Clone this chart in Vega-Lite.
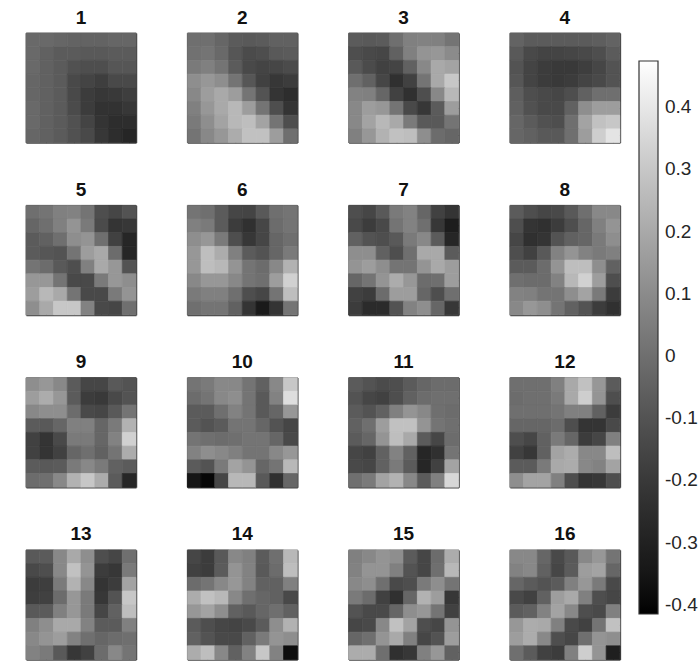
{"$schema":"https://vega.github.io/schema/vega-lite/v6.json","padding":{"left":25,"top":8,"right":0,"bottom":0},"background":"white",
"data":{"values":[
{"p":1,"r":1,"c":1,"v":-0.02},{"p":1,"r":1,"c":2,"v":-0.02},{"p":1,"r":1,"c":3,"v":-0.03},{"p":1,"r":1,"c":4,"v":-0.04},{"p":1,"r":1,"c":5,"v":-0.04},{"p":1,"r":1,"c":6,"v":-0.04},{"p":1,"r":1,"c":7,"v":-0.03},{"p":1,"r":1,"c":8,"v":-0.03},
{"p":1,"r":2,"c":1,"v":-0.02},{"p":1,"r":2,"c":2,"v":-0.05},{"p":1,"r":2,"c":3,"v":-0.07},{"p":1,"r":2,"c":4,"v":-0.07},{"p":1,"r":2,"c":5,"v":-0.08},{"p":1,"r":2,"c":6,"v":-0.08},{"p":1,"r":2,"c":7,"v":-0.07},{"p":1,"r":2,"c":8,"v":-0.07},
{"p":1,"r":3,"c":1,"v":-0.02},{"p":1,"r":3,"c":2,"v":-0.05},{"p":1,"r":3,"c":3,"v":-0.07},{"p":1,"r":3,"c":4,"v":-0.11},{"p":1,"r":3,"c":5,"v":-0.12},{"p":1,"r":3,"c":6,"v":-0.12},{"p":1,"r":3,"c":7,"v":-0.09},{"p":1,"r":3,"c":8,"v":-0.09},
{"p":1,"r":4,"c":1,"v":-0.03},{"p":1,"r":4,"c":2,"v":-0.05},{"p":1,"r":4,"c":3,"v":-0.07},{"p":1,"r":4,"c":4,"v":-0.14},{"p":1,"r":4,"c":5,"v":-0.16},{"p":1,"r":4,"c":6,"v":-0.18},{"p":1,"r":4,"c":7,"v":-0.14},{"p":1,"r":4,"c":8,"v":-0.14},
{"p":1,"r":5,"c":1,"v":-0.03},{"p":1,"r":5,"c":2,"v":-0.05},{"p":1,"r":5,"c":3,"v":-0.07},{"p":1,"r":5,"c":4,"v":-0.14},{"p":1,"r":5,"c":5,"v":-0.19},{"p":1,"r":5,"c":6,"v":-0.21},{"p":1,"r":5,"c":7,"v":-0.2},{"p":1,"r":5,"c":8,"v":-0.18},
{"p":1,"r":6,"c":1,"v":-0.02},{"p":1,"r":6,"c":2,"v":-0.05},{"p":1,"r":6,"c":3,"v":-0.07},{"p":1,"r":6,"c":4,"v":-0.13},{"p":1,"r":6,"c":5,"v":-0.19},{"p":1,"r":6,"c":6,"v":-0.23},{"p":1,"r":6,"c":7,"v":-0.23},{"p":1,"r":6,"c":8,"v":-0.21},
{"p":1,"r":7,"c":1,"v":-0.02},{"p":1,"r":7,"c":2,"v":-0.05},{"p":1,"r":7,"c":3,"v":-0.07},{"p":1,"r":7,"c":4,"v":-0.11},{"p":1,"r":7,"c":5,"v":-0.16},{"p":1,"r":7,"c":6,"v":-0.22},{"p":1,"r":7,"c":7,"v":-0.25},{"p":1,"r":7,"c":8,"v":-0.25},
{"p":1,"r":8,"c":1,"v":-0.03},{"p":1,"r":8,"c":2,"v":-0.05},{"p":1,"r":8,"c":3,"v":-0.07},{"p":1,"r":8,"c":4,"v":-0.11},{"p":1,"r":8,"c":5,"v":-0.14},{"p":1,"r":8,"c":6,"v":-0.21},{"p":1,"r":8,"c":7,"v":-0.25},{"p":1,"r":8,"c":8,"v":-0.28},
{"p":2,"r":1,"c":1,"v":0},{"p":2,"r":1,"c":2,"v":0},{"p":2,"r":1,"c":3,"v":-0.03},{"p":2,"r":1,"c":4,"v":-0.07},{"p":2,"r":1,"c":5,"v":-0.08},{"p":2,"r":1,"c":6,"v":-0.07},{"p":2,"r":1,"c":7,"v":-0.05},{"p":2,"r":1,"c":8,"v":-0.05},
{"p":2,"r":2,"c":1,"v":0.01},{"p":2,"r":2,"c":2,"v":0.02},{"p":2,"r":2,"c":3,"v":-0.02},{"p":2,"r":2,"c":4,"v":-0.09},{"p":2,"r":2,"c":5,"v":-0.13},{"p":2,"r":2,"c":6,"v":-0.12},{"p":2,"r":2,"c":7,"v":-0.08},{"p":2,"r":2,"c":8,"v":-0.07},
{"p":2,"r":3,"c":1,"v":0.04},{"p":2,"r":3,"c":2,"v":0.06},{"p":2,"r":3,"c":3,"v":0.02},{"p":2,"r":3,"c":4,"v":-0.07},{"p":2,"r":3,"c":5,"v":-0.14},{"p":2,"r":3,"c":6,"v":-0.16},{"p":2,"r":3,"c":7,"v":-0.15},{"p":2,"r":3,"c":8,"v":-0.13},
{"p":2,"r":4,"c":1,"v":0.11},{"p":2,"r":4,"c":2,"v":0.14},{"p":2,"r":4,"c":3,"v":0.11},{"p":2,"r":4,"c":4,"v":0.02},{"p":2,"r":4,"c":5,"v":-0.09},{"p":2,"r":4,"c":6,"v":-0.17},{"p":2,"r":4,"c":7,"v":-0.21},{"p":2,"r":4,"c":8,"v":-0.19},
{"p":2,"r":5,"c":1,"v":0.09},{"p":2,"r":5,"c":2,"v":0.16},{"p":2,"r":5,"c":3,"v":0.2},{"p":2,"r":5,"c":4,"v":0.16},{"p":2,"r":5,"c":5,"v":0.02},{"p":2,"r":5,"c":6,"v":-0.1},{"p":2,"r":5,"c":7,"v":-0.22},{"p":2,"r":5,"c":8,"v":-0.25},
{"p":2,"r":6,"c":1,"v":0.06},{"p":2,"r":6,"c":2,"v":0.14},{"p":2,"r":6,"c":3,"v":0.2},{"p":2,"r":6,"c":4,"v":0.25},{"p":2,"r":6,"c":5,"v":0.16},{"p":2,"r":6,"c":6,"v":0.02},{"p":2,"r":6,"c":7,"v":-0.12},{"p":2,"r":6,"c":8,"v":-0.22},
{"p":2,"r":7,"c":1,"v":0.04},{"p":2,"r":7,"c":2,"v":0.11},{"p":2,"r":7,"c":3,"v":0.18},{"p":2,"r":7,"c":4,"v":0.25},{"p":2,"r":7,"c":5,"v":0.27},{"p":2,"r":7,"c":6,"v":0.18},{"p":2,"r":7,"c":7,"v":0.02},{"p":2,"r":7,"c":8,"v":-0.12},
{"p":2,"r":8,"c":1,"v":0.02},{"p":2,"r":8,"c":2,"v":0.09},{"p":2,"r":8,"c":3,"v":0.14},{"p":2,"r":8,"c":4,"v":0.21},{"p":2,"r":8,"c":5,"v":0.28},{"p":2,"r":8,"c":6,"v":0.28},{"p":2,"r":8,"c":7,"v":0.16},{"p":2,"r":8,"c":8,"v":0},
{"p":3,"r":1,"c":1,"v":-0.07},{"p":3,"r":1,"c":2,"v":-0.08},{"p":3,"r":1,"c":3,"v":-0.07},{"p":3,"r":1,"c":4,"v":0},{"p":3,"r":1,"c":5,"v":0.06},{"p":3,"r":1,"c":6,"v":0.07},{"p":3,"r":1,"c":7,"v":0.06},{"p":3,"r":1,"c":8,"v":0.02},
{"p":3,"r":2,"c":1,"v":-0.12},{"p":3,"r":2,"c":2,"v":-0.14},{"p":3,"r":2,"c":3,"v":-0.15},{"p":3,"r":2,"c":4,"v":-0.05},{"p":3,"r":2,"c":5,"v":0.06},{"p":3,"r":2,"c":6,"v":0.13},{"p":3,"r":2,"c":7,"v":0.14},{"p":3,"r":2,"c":8,"v":0.1},
{"p":3,"r":3,"c":1,"v":-0.08},{"p":3,"r":3,"c":2,"v":-0.13},{"p":3,"r":3,"c":3,"v":-0.17},{"p":3,"r":3,"c":4,"v":-0.16},{"p":3,"r":3,"c":5,"v":-0.05},{"p":3,"r":3,"c":6,"v":0.09},{"p":3,"r":3,"c":7,"v":0.2},{"p":3,"r":3,"c":8,"v":0.18},
{"p":3,"r":4,"c":1,"v":0},{"p":3,"r":4,"c":2,"v":-0.05},{"p":3,"r":4,"c":3,"v":-0.15},{"p":3,"r":4,"c":4,"v":-0.24},{"p":3,"r":4,"c":5,"v":-0.17},{"p":3,"r":4,"c":6,"v":0.02},{"p":3,"r":4,"c":7,"v":0.2},{"p":3,"r":4,"c":8,"v":0.3},
{"p":3,"r":5,"c":1,"v":0.07},{"p":3,"r":5,"c":2,"v":0.06},{"p":3,"r":5,"c":3,"v":-0.03},{"p":3,"r":5,"c":4,"v":-0.17},{"p":3,"r":5,"c":5,"v":-0.24},{"p":3,"r":5,"c":6,"v":-0.12},{"p":3,"r":5,"c":7,"v":0.09},{"p":3,"r":5,"c":8,"v":0.25},
{"p":3,"r":6,"c":1,"v":0.09},{"p":3,"r":6,"c":2,"v":0.16},{"p":3,"r":6,"c":3,"v":0.14},{"p":3,"r":6,"c":4,"v":0.02},{"p":3,"r":6,"c":5,"v":-0.14},{"p":3,"r":6,"c":6,"v":-0.21},{"p":3,"r":6,"c":7,"v":-0.07},{"p":3,"r":6,"c":8,"v":0.16},
{"p":3,"r":7,"c":1,"v":0.09},{"p":3,"r":7,"c":2,"v":0.18},{"p":3,"r":7,"c":3,"v":0.25},{"p":3,"r":7,"c":4,"v":0.2},{"p":3,"r":7,"c":5,"v":0.04},{"p":3,"r":7,"c":6,"v":-0.08},{"p":3,"r":7,"c":7,"v":-0.08},{"p":3,"r":7,"c":8,"v":0.02},
{"p":3,"r":8,"c":1,"v":0.06},{"p":3,"r":8,"c":2,"v":0.14},{"p":3,"r":8,"c":3,"v":0.23},{"p":3,"r":8,"c":4,"v":0.28},{"p":3,"r":8,"c":5,"v":0.27},{"p":3,"r":8,"c":6,"v":0.11},{"p":3,"r":8,"c":7,"v":-0.01},{"p":3,"r":8,"c":8,"v":-0.03},
{"p":4,"r":1,"c":1,"v":-0.04},{"p":4,"r":1,"c":2,"v":-0.07},{"p":4,"r":1,"c":3,"v":-0.07},{"p":4,"r":1,"c":4,"v":-0.07},{"p":4,"r":1,"c":5,"v":-0.07},{"p":4,"r":1,"c":6,"v":-0.07},{"p":4,"r":1,"c":7,"v":-0.06},{"p":4,"r":1,"c":8,"v":-0.04},
{"p":4,"r":2,"c":1,"v":-0.08},{"p":4,"r":2,"c":2,"v":-0.14},{"p":4,"r":2,"c":3,"v":-0.16},{"p":4,"r":2,"c":4,"v":-0.16},{"p":4,"r":2,"c":5,"v":-0.15},{"p":4,"r":2,"c":6,"v":-0.14},{"p":4,"r":2,"c":7,"v":-0.12},{"p":4,"r":2,"c":8,"v":-0.07},
{"p":4,"r":3,"c":1,"v":-0.1},{"p":4,"r":3,"c":2,"v":-0.16},{"p":4,"r":3,"c":3,"v":-0.19},{"p":4,"r":3,"c":4,"v":-0.2},{"p":4,"r":3,"c":5,"v":-0.2},{"p":4,"r":3,"c":6,"v":-0.18},{"p":4,"r":3,"c":7,"v":-0.15},{"p":4,"r":3,"c":8,"v":-0.1},
{"p":4,"r":4,"c":1,"v":-0.09},{"p":4,"r":4,"c":2,"v":-0.16},{"p":4,"r":4,"c":3,"v":-0.19},{"p":4,"r":4,"c":4,"v":-0.2},{"p":4,"r":4,"c":5,"v":-0.19},{"p":4,"r":4,"c":6,"v":-0.16},{"p":4,"r":4,"c":7,"v":-0.14},{"p":4,"r":4,"c":8,"v":-0.1},
{"p":4,"r":5,"c":1,"v":-0.06},{"p":4,"r":5,"c":2,"v":-0.12},{"p":4,"r":5,"c":3,"v":-0.14},{"p":4,"r":5,"c":4,"v":-0.15},{"p":4,"r":5,"c":5,"v":-0.12},{"p":4,"r":5,"c":6,"v":-0.05},{"p":4,"r":5,"c":7,"v":0},{"p":4,"r":5,"c":8,"v":0},
{"p":4,"r":6,"c":1,"v":-0.05},{"p":4,"r":6,"c":2,"v":-0.11},{"p":4,"r":6,"c":3,"v":-0.14},{"p":4,"r":6,"c":4,"v":-0.14},{"p":4,"r":6,"c":5,"v":-0.05},{"p":4,"r":6,"c":6,"v":0.11},{"p":4,"r":6,"c":7,"v":0.16},{"p":4,"r":6,"c":8,"v":0.16},
{"p":4,"r":7,"c":1,"v":-0.03},{"p":4,"r":7,"c":2,"v":-0.07},{"p":4,"r":7,"c":3,"v":-0.11},{"p":4,"r":7,"c":4,"v":-0.12},{"p":4,"r":7,"c":5,"v":0},{"p":4,"r":7,"c":6,"v":0.18},{"p":4,"r":7,"c":7,"v":0.28},{"p":4,"r":7,"c":8,"v":0.3},
{"p":4,"r":8,"c":1,"v":-0.03},{"p":4,"r":8,"c":2,"v":-0.05},{"p":4,"r":8,"c":3,"v":-0.08},{"p":4,"r":8,"c":4,"v":-0.08},{"p":4,"r":8,"c":5,"v":0},{"p":4,"r":8,"c":6,"v":0.16},{"p":4,"r":8,"c":7,"v":0.32},{"p":4,"r":8,"c":8,"v":0.39},
{"p":5,"r":1,"c":1,"v":0},{"p":5,"r":1,"c":2,"v":0.02},{"p":5,"r":1,"c":3,"v":0.06},{"p":5,"r":1,"c":4,"v":0.07},{"p":5,"r":1,"c":5,"v":0.02},{"p":5,"r":1,"c":6,"v":-0.12},{"p":5,"r":1,"c":7,"v":-0.15},{"p":5,"r":1,"c":8,"v":-0.1},
{"p":5,"r":2,"c":1,"v":-0.03},{"p":5,"r":2,"c":2,"v":0},{"p":5,"r":2,"c":3,"v":0.06},{"p":5,"r":2,"c":4,"v":0.13},{"p":5,"r":2,"c":5,"v":0.04},{"p":5,"r":2,"c":6,"v":-0.13},{"p":5,"r":2,"c":7,"v":-0.22},{"p":5,"r":2,"c":8,"v":-0.21},
{"p":5,"r":3,"c":1,"v":-0.07},{"p":5,"r":3,"c":2,"v":-0.05},{"p":5,"r":3,"c":3,"v":0},{"p":5,"r":3,"c":4,"v":0.11},{"p":5,"r":3,"c":5,"v":0.13},{"p":5,"r":3,"c":6,"v":0},{"p":5,"r":3,"c":7,"v":-0.17},{"p":5,"r":3,"c":8,"v":-0.28},
{"p":5,"r":4,"c":1,"v":-0.07},{"p":5,"r":4,"c":2,"v":-0.09},{"p":5,"r":4,"c":3,"v":-0.1},{"p":5,"r":4,"c":4,"v":0.02},{"p":5,"r":4,"c":5,"v":0.16},{"p":5,"r":4,"c":6,"v":0.2},{"p":5,"r":4,"c":7,"v":-0.01},{"p":5,"r":4,"c":8,"v":-0.28},
{"p":5,"r":5,"c":1,"v":0.02},{"p":5,"r":5,"c":2,"v":-0.01},{"p":5,"r":5,"c":3,"v":-0.08},{"p":5,"r":5,"c":4,"v":-0.12},{"p":5,"r":5,"c":5,"v":0.06},{"p":5,"r":5,"c":6,"v":0.2},{"p":5,"r":5,"c":7,"v":0.14},{"p":5,"r":5,"c":8,"v":-0.1},
{"p":5,"r":6,"c":1,"v":0.14},{"p":5,"r":6,"c":2,"v":0.14},{"p":5,"r":6,"c":3,"v":0.02},{"p":5,"r":6,"c":4,"v":-0.14},{"p":5,"r":6,"c":5,"v":-0.14},{"p":5,"r":6,"c":6,"v":0.04},{"p":5,"r":6,"c":7,"v":0.14},{"p":5,"r":6,"c":8,"v":0.11},
{"p":5,"r":7,"c":1,"v":0.16},{"p":5,"r":7,"c":2,"v":0.25},{"p":5,"r":7,"c":3,"v":0.2},{"p":5,"r":7,"c":4,"v":0.02},{"p":5,"r":7,"c":5,"v":-0.14},{"p":5,"r":7,"c":6,"v":-0.14},{"p":5,"r":7,"c":7,"v":0.04},{"p":5,"r":7,"c":8,"v":0.13},
{"p":5,"r":8,"c":1,"v":0.11},{"p":5,"r":8,"c":2,"v":0.2},{"p":5,"r":8,"c":3,"v":0.3},{"p":5,"r":8,"c":4,"v":0.3},{"p":5,"r":8,"c":5,"v":0.07},{"p":5,"r":8,"c":6,"v":-0.14},{"p":5,"r":8,"c":7,"v":-0.15},{"p":5,"r":8,"c":8,"v":0},
{"p":6,"r":1,"c":1,"v":0.02},{"p":6,"r":1,"c":2,"v":0},{"p":6,"r":1,"c":3,"v":-0.07},{"p":6,"r":1,"c":4,"v":-0.15},{"p":6,"r":1,"c":5,"v":-0.16},{"p":6,"r":1,"c":6,"v":-0.08},{"p":6,"r":1,"c":7,"v":0},{"p":6,"r":1,"c":8,"v":0.02},
{"p":6,"r":2,"c":1,"v":0.06},{"p":6,"r":2,"c":2,"v":0.04},{"p":6,"r":2,"c":3,"v":-0.07},{"p":6,"r":2,"c":4,"v":-0.19},{"p":6,"r":2,"c":5,"v":-0.24},{"p":6,"r":2,"c":6,"v":-0.15},{"p":6,"r":2,"c":7,"v":-0.01},{"p":6,"r":2,"c":8,"v":0.02},
{"p":6,"r":3,"c":1,"v":0.11},{"p":6,"r":3,"c":2,"v":0.14},{"p":6,"r":3,"c":3,"v":0.04},{"p":6,"r":3,"c":4,"v":-0.12},{"p":6,"r":3,"c":5,"v":-0.21},{"p":6,"r":3,"c":6,"v":-0.15},{"p":6,"r":3,"c":7,"v":-0.03},{"p":6,"r":3,"c":8,"v":0},
{"p":6,"r":4,"c":1,"v":0.14},{"p":6,"r":4,"c":2,"v":0.27},{"p":6,"r":4,"c":3,"v":0.21},{"p":6,"r":4,"c":4,"v":0.06},{"p":6,"r":4,"c":5,"v":-0.07},{"p":6,"r":4,"c":6,"v":-0.1},{"p":6,"r":4,"c":7,"v":-0.03},{"p":6,"r":4,"c":8,"v":0.04},
{"p":6,"r":5,"c":1,"v":0.14},{"p":6,"r":5,"c":2,"v":0.27},{"p":6,"r":5,"c":3,"v":0.25},{"p":6,"r":5,"c":4,"v":0.13},{"p":6,"r":5,"c":5,"v":0.02},{"p":6,"r":5,"c":6,"v":-0.01},{"p":6,"r":5,"c":7,"v":0.09},{"p":6,"r":5,"c":8,"v":0.23},
{"p":6,"r":6,"c":1,"v":0.09},{"p":6,"r":6,"c":2,"v":0.14},{"p":6,"r":6,"c":3,"v":0.14},{"p":6,"r":6,"c":4,"v":0.09},{"p":6,"r":6,"c":5,"v":0.02},{"p":6,"r":6,"c":6,"v":0},{"p":6,"r":6,"c":7,"v":0.16},{"p":6,"r":6,"c":8,"v":0.33},
{"p":6,"r":7,"c":1,"v":0.04},{"p":6,"r":7,"c":2,"v":0.06},{"p":6,"r":7,"c":3,"v":0.06},{"p":6,"r":7,"c":4,"v":0},{"p":6,"r":7,"c":5,"v":-0.12},{"p":6,"r":7,"c":6,"v":-0.15},{"p":6,"r":7,"c":7,"v":0.02},{"p":6,"r":7,"c":8,"v":0.27},
{"p":6,"r":8,"c":1,"v":0},{"p":6,"r":8,"c":2,"v":0.02},{"p":6,"r":8,"c":3,"v":0.02},{"p":6,"r":8,"c":4,"v":-0.05},{"p":6,"r":8,"c":5,"v":-0.22},{"p":6,"r":8,"c":6,"v":-0.33},{"p":6,"r":8,"c":7,"v":-0.22},{"p":6,"r":8,"c":8,"v":0.02},
{"p":7,"r":1,"c":1,"v":-0.12},{"p":7,"r":1,"c":2,"v":-0.15},{"p":7,"r":1,"c":3,"v":-0.08},{"p":7,"r":1,"c":4,"v":0.04},{"p":7,"r":1,"c":5,"v":0.07},{"p":7,"r":1,"c":6,"v":-0.03},{"p":7,"r":1,"c":7,"v":-0.17},{"p":7,"r":1,"c":8,"v":-0.22},
{"p":7,"r":2,"c":1,"v":-0.14},{"p":7,"r":2,"c":2,"v":-0.19},{"p":7,"r":2,"c":3,"v":-0.14},{"p":7,"r":2,"c":4,"v":0.02},{"p":7,"r":2,"c":5,"v":0.07},{"p":7,"r":2,"c":6,"v":0},{"p":7,"r":2,"c":7,"v":-0.21},{"p":7,"r":2,"c":8,"v":-0.32},
{"p":7,"r":3,"c":1,"v":-0.05},{"p":7,"r":3,"c":2,"v":-0.1},{"p":7,"r":3,"c":3,"v":-0.12},{"p":7,"r":3,"c":4,"v":-0.08},{"p":7,"r":3,"c":5,"v":0.04},{"p":7,"r":3,"c":6,"v":0.09},{"p":7,"r":3,"c":7,"v":-0.07},{"p":7,"r":3,"c":8,"v":-0.28},
{"p":7,"r":4,"c":1,"v":0.11},{"p":7,"r":4,"c":2,"v":0.11},{"p":7,"r":4,"c":3,"v":-0.05},{"p":7,"r":4,"c":4,"v":-0.12},{"p":7,"r":4,"c":5,"v":0},{"p":7,"r":4,"c":6,"v":0.2},{"p":7,"r":4,"c":7,"v":0.2},{"p":7,"r":4,"c":8,"v":-0.07},
{"p":7,"r":5,"c":1,"v":0.13},{"p":7,"r":5,"c":2,"v":0.16},{"p":7,"r":5,"c":3,"v":0.11},{"p":7,"r":5,"c":4,"v":0.02},{"p":7,"r":5,"c":5,"v":0.02},{"p":7,"r":5,"c":6,"v":0.13},{"p":7,"r":5,"c":7,"v":0.2},{"p":7,"r":5,"c":8,"v":0.16},
{"p":7,"r":6,"c":1,"v":-0.03},{"p":7,"r":6,"c":2,"v":0.02},{"p":7,"r":6,"c":3,"v":0.13},{"p":7,"r":6,"c":4,"v":0.21},{"p":7,"r":6,"c":5,"v":0.14},{"p":7,"r":6,"c":6,"v":-0.01},{"p":7,"r":6,"c":7,"v":0},{"p":7,"r":6,"c":8,"v":0.16},
{"p":7,"r":7,"c":1,"v":-0.17},{"p":7,"r":7,"c":2,"v":-0.19},{"p":7,"r":7,"c":3,"v":-0.01},{"p":7,"r":7,"c":4,"v":0.16},{"p":7,"r":7,"c":5,"v":0.16},{"p":7,"r":7,"c":6,"v":-0.03},{"p":7,"r":7,"c":7,"v":-0.12},{"p":7,"r":7,"c":8,"v":0},
{"p":7,"r":8,"c":1,"v":-0.19},{"p":7,"r":8,"c":2,"v":-0.26},{"p":7,"r":8,"c":3,"v":-0.26},{"p":7,"r":8,"c":4,"v":-0.1},{"p":7,"r":8,"c":5,"v":0.07},{"p":7,"r":8,"c":6,"v":0.11},{"p":7,"r":8,"c":7,"v":-0.03},{"p":7,"r":8,"c":8,"v":-0.21},
{"p":8,"r":1,"c":1,"v":-0.07},{"p":8,"r":1,"c":2,"v":-0.12},{"p":8,"r":1,"c":3,"v":-0.15},{"p":8,"r":1,"c":4,"v":-0.14},{"p":8,"r":1,"c":5,"v":-0.08},{"p":8,"r":1,"c":6,"v":0},{"p":8,"r":1,"c":7,"v":0.09},{"p":8,"r":1,"c":8,"v":0.09},
{"p":8,"r":2,"c":1,"v":-0.12},{"p":8,"r":2,"c":2,"v":-0.22},{"p":8,"r":2,"c":3,"v":-0.24},{"p":8,"r":2,"c":4,"v":-0.19},{"p":8,"r":2,"c":5,"v":-0.12},{"p":8,"r":2,"c":6,"v":-0.03},{"p":8,"r":2,"c":7,"v":0.06},{"p":8,"r":2,"c":8,"v":0.13},
{"p":8,"r":3,"c":1,"v":-0.15},{"p":8,"r":3,"c":2,"v":-0.24},{"p":8,"r":3,"c":3,"v":-0.22},{"p":8,"r":3,"c":4,"v":-0.1},{"p":8,"r":3,"c":5,"v":-0.05},{"p":8,"r":3,"c":6,"v":-0.03},{"p":8,"r":3,"c":7,"v":0.04},{"p":8,"r":3,"c":8,"v":0.11},
{"p":8,"r":4,"c":1,"v":-0.12},{"p":8,"r":4,"c":2,"v":-0.17},{"p":8,"r":4,"c":3,"v":-0.08},{"p":8,"r":4,"c":4,"v":0.07},{"p":8,"r":4,"c":5,"v":0.13},{"p":8,"r":4,"c":6,"v":0.07},{"p":8,"r":4,"c":7,"v":0.04},{"p":8,"r":4,"c":8,"v":0.06},
{"p":8,"r":5,"c":1,"v":-0.07},{"p":8,"r":5,"c":2,"v":-0.07},{"p":8,"r":5,"c":3,"v":-0.01},{"p":8,"r":5,"c":4,"v":0.13},{"p":8,"r":5,"c":5,"v":0.27},{"p":8,"r":5,"c":6,"v":0.27},{"p":8,"r":5,"c":7,"v":0.11},{"p":8,"r":5,"c":8,"v":-0.05},
{"p":8,"r":6,"c":1,"v":0},{"p":8,"r":6,"c":2,"v":-0.01},{"p":8,"r":6,"c":3,"v":-0.01},{"p":8,"r":6,"c":4,"v":0.07},{"p":8,"r":6,"c":5,"v":0.25},{"p":8,"r":6,"c":6,"v":0.33},{"p":8,"r":6,"c":7,"v":0.16},{"p":8,"r":6,"c":8,"v":-0.12},
{"p":8,"r":7,"c":1,"v":0.07},{"p":8,"r":7,"c":2,"v":0.06},{"p":8,"r":7,"c":3,"v":0.02},{"p":8,"r":7,"c":4,"v":0.02},{"p":8,"r":7,"c":5,"v":0.11},{"p":8,"r":7,"c":6,"v":0.18},{"p":8,"r":7,"c":7,"v":0.04},{"p":8,"r":7,"c":8,"v":-0.19},
{"p":8,"r":8,"c":1,"v":0.09},{"p":8,"r":8,"c":2,"v":0.14},{"p":8,"r":8,"c":3,"v":0.11},{"p":8,"r":8,"c":4,"v":0.02},{"p":8,"r":8,"c":5,"v":-0.05},{"p":8,"r":8,"c":6,"v":-0.1},{"p":8,"r":8,"c":7,"v":-0.19},{"p":8,"r":8,"c":8,"v":-0.24},
{"p":9,"r":1,"c":1,"v":0.11},{"p":9,"r":1,"c":2,"v":0.14},{"p":9,"r":1,"c":3,"v":0.09},{"p":9,"r":1,"c":4,"v":-0.07},{"p":9,"r":1,"c":5,"v":-0.15},{"p":9,"r":1,"c":6,"v":-0.15},{"p":9,"r":1,"c":7,"v":-0.08},{"p":9,"r":1,"c":8,"v":-0.1},
{"p":9,"r":2,"c":1,"v":0.16},{"p":9,"r":2,"c":2,"v":0.21},{"p":9,"r":2,"c":3,"v":0.14},{"p":9,"r":2,"c":4,"v":-0.07},{"p":9,"r":2,"c":5,"v":-0.19},{"p":9,"r":2,"c":6,"v":-0.2},{"p":9,"r":2,"c":7,"v":-0.14},{"p":9,"r":2,"c":8,"v":-0.1},
{"p":9,"r":3,"c":1,"v":0.09},{"p":9,"r":3,"c":2,"v":0.11},{"p":9,"r":3,"c":3,"v":0.11},{"p":9,"r":3,"c":4,"v":-0.01},{"p":9,"r":3,"c":5,"v":-0.14},{"p":9,"r":3,"c":6,"v":-0.15},{"p":9,"r":3,"c":7,"v":-0.08},{"p":9,"r":3,"c":8,"v":0.02},
{"p":9,"r":4,"c":1,"v":-0.07},{"p":9,"r":4,"c":2,"v":-0.08},{"p":9,"r":4,"c":3,"v":-0.03},{"p":9,"r":4,"c":4,"v":0.06},{"p":9,"r":4,"c":5,"v":0.06},{"p":9,"r":4,"c":6,"v":-0.03},{"p":9,"r":4,"c":7,"v":0.04},{"p":9,"r":4,"c":8,"v":0.23},
{"p":9,"r":5,"c":1,"v":-0.17},{"p":9,"r":5,"c":2,"v":-0.22},{"p":9,"r":5,"c":3,"v":-0.14},{"p":9,"r":5,"c":4,"v":0.04},{"p":9,"r":5,"c":5,"v":0.04},{"p":9,"r":5,"c":6,"v":-0.03},{"p":9,"r":5,"c":7,"v":0.07},{"p":9,"r":5,"c":8,"v":0.33},
{"p":9,"r":6,"c":1,"v":-0.17},{"p":9,"r":6,"c":2,"v":-0.22},{"p":9,"r":6,"c":3,"v":-0.17},{"p":9,"r":6,"c":4,"v":-0.03},{"p":9,"r":6,"c":5,"v":0},{"p":9,"r":6,"c":6,"v":-0.05},{"p":9,"r":6,"c":7,"v":0.02},{"p":9,"r":6,"c":8,"v":0.21},
{"p":9,"r":7,"c":1,"v":-0.07},{"p":9,"r":7,"c":2,"v":-0.08},{"p":9,"r":7,"c":3,"v":-0.07},{"p":9,"r":7,"c":4,"v":0.04},{"p":9,"r":7,"c":5,"v":0.09},{"p":9,"r":7,"c":6,"v":0.04},{"p":9,"r":7,"c":7,"v":-0.05},{"p":9,"r":7,"c":8,"v":-0.07},
{"p":9,"r":8,"c":1,"v":-0.01},{"p":9,"r":8,"c":2,"v":0},{"p":9,"r":8,"c":3,"v":0.09},{"p":9,"r":8,"c":4,"v":0.23},{"p":9,"r":8,"c":5,"v":0.3},{"p":9,"r":8,"c":6,"v":0.21},{"p":9,"r":8,"c":7,"v":-0.07},{"p":9,"r":8,"c":8,"v":-0.28},
{"p":10,"r":1,"c":1,"v":0.02},{"p":10,"r":1,"c":2,"v":0.04},{"p":10,"r":1,"c":3,"v":0.09},{"p":10,"r":1,"c":4,"v":0.09},{"p":10,"r":1,"c":5,"v":0.02},{"p":10,"r":1,"c":6,"v":-0.05},{"p":10,"r":1,"c":7,"v":0.09},{"p":10,"r":1,"c":8,"v":0.3},
{"p":10,"r":2,"c":1,"v":-0.01},{"p":10,"r":2,"c":2,"v":0.02},{"p":10,"r":2,"c":3,"v":0.09},{"p":10,"r":2,"c":4,"v":0.11},{"p":10,"r":2,"c":5,"v":0.02},{"p":10,"r":2,"c":6,"v":-0.08},{"p":10,"r":2,"c":7,"v":0.07},{"p":10,"r":2,"c":8,"v":0.37},
{"p":10,"r":3,"c":1,"v":-0.07},{"p":10,"r":3,"c":2,"v":-0.07},{"p":10,"r":3,"c":3,"v":0},{"p":10,"r":3,"c":4,"v":0.07},{"p":10,"r":3,"c":5,"v":0.02},{"p":10,"r":3,"c":6,"v":-0.08},{"p":10,"r":3,"c":7,"v":-0.03},{"p":10,"r":3,"c":8,"v":0.14},
{"p":10,"r":4,"c":1,"v":-0.07},{"p":10,"r":4,"c":2,"v":-0.1},{"p":10,"r":4,"c":3,"v":-0.07},{"p":10,"r":4,"c":4,"v":0.02},{"p":10,"r":4,"c":5,"v":0.02},{"p":10,"r":4,"c":6,"v":-0.03},{"p":10,"r":4,"c":7,"v":-0.1},{"p":10,"r":4,"c":8,"v":-0.15},
{"p":10,"r":5,"c":1,"v":0.02},{"p":10,"r":5,"c":2,"v":0},{"p":10,"r":5,"c":3,"v":-0.01},{"p":10,"r":5,"c":4,"v":0},{"p":10,"r":5,"c":5,"v":0.02},{"p":10,"r":5,"c":6,"v":0.02},{"p":10,"r":5,"c":7,"v":-0.03},{"p":10,"r":5,"c":8,"v":-0.14},
{"p":10,"r":6,"c":1,"v":0.07},{"p":10,"r":6,"c":2,"v":0.11},{"p":10,"r":6,"c":3,"v":0.09},{"p":10,"r":6,"c":4,"v":0.06},{"p":10,"r":6,"c":5,"v":0.02},{"p":10,"r":6,"c":6,"v":0.02},{"p":10,"r":6,"c":7,"v":0.09},{"p":10,"r":6,"c":8,"v":0.14},
{"p":10,"r":7,"c":1,"v":-0.07},{"p":10,"r":7,"c":2,"v":-0.1},{"p":10,"r":7,"c":3,"v":0.04},{"p":10,"r":7,"c":4,"v":0.18},{"p":10,"r":7,"c":5,"v":0.13},{"p":10,"r":7,"c":6,"v":-0.03},{"p":10,"r":7,"c":7,"v":0.02},{"p":10,"r":7,"c":8,"v":0.25},
{"p":10,"r":8,"c":1,"v":-0.35},{"p":10,"r":8,"c":2,"v":-0.4},{"p":10,"r":8,"c":3,"v":-0.15},{"p":10,"r":8,"c":4,"v":0.25},{"p":10,"r":8,"c":5,"v":0.25},{"p":10,"r":8,"c":6,"v":-0.08},{"p":10,"r":8,"c":7,"v":-0.24},{"p":10,"r":8,"c":8,"v":-0.03},
{"p":11,"r":1,"c":1,"v":-0.07},{"p":11,"r":1,"c":2,"v":-0.1},{"p":11,"r":1,"c":3,"v":-0.13},{"p":11,"r":1,"c":4,"v":-0.12},{"p":11,"r":1,"c":5,"v":-0.07},{"p":11,"r":1,"c":6,"v":-0.03},{"p":11,"r":1,"c":7,"v":-0.01},{"p":11,"r":1,"c":8,"v":-0.01},
{"p":11,"r":2,"c":1,"v":-0.1},{"p":11,"r":2,"c":2,"v":-0.15},{"p":11,"r":2,"c":3,"v":-0.17},{"p":11,"r":2,"c":4,"v":-0.12},{"p":11,"r":2,"c":5,"v":-0.05},{"p":11,"r":2,"c":6,"v":-0.01},{"p":11,"r":2,"c":7,"v":0},{"p":11,"r":2,"c":8,"v":0},
{"p":11,"r":3,"c":1,"v":-0.07},{"p":11,"r":3,"c":2,"v":-0.1},{"p":11,"r":3,"c":3,"v":-0.05},{"p":11,"r":3,"c":4,"v":0.06},{"p":11,"r":3,"c":5,"v":0.13},{"p":11,"r":3,"c":6,"v":0.09},{"p":11,"r":3,"c":7,"v":0},{"p":11,"r":3,"c":8,"v":-0.01},
{"p":11,"r":4,"c":1,"v":-0.05},{"p":11,"r":4,"c":2,"v":0},{"p":11,"r":4,"c":3,"v":0.16},{"p":11,"r":4,"c":4,"v":0.28},{"p":11,"r":4,"c":5,"v":0.28},{"p":11,"r":4,"c":6,"v":0.13},{"p":11,"r":4,"c":7,"v":0.02},{"p":11,"r":4,"c":8,"v":0},
{"p":11,"r":5,"c":1,"v":-0.07},{"p":11,"r":5,"c":2,"v":-0.03},{"p":11,"r":5,"c":3,"v":0.13},{"p":11,"r":5,"c":4,"v":0.27},{"p":11,"r":5,"c":5,"v":0.2},{"p":11,"r":5,"c":6,"v":-0.07},{"p":11,"r":5,"c":7,"v":-0.15},{"p":11,"r":5,"c":8,"v":-0.01},
{"p":11,"r":6,"c":1,"v":-0.15},{"p":11,"r":6,"c":2,"v":-0.17},{"p":11,"r":6,"c":3,"v":-0.05},{"p":11,"r":6,"c":4,"v":0.07},{"p":11,"r":6,"c":5,"v":-0.05},{"p":11,"r":6,"c":6,"v":-0.28},{"p":11,"r":6,"c":7,"v":-0.24},{"p":11,"r":6,"c":8,"v":0.02},
{"p":11,"r":7,"c":1,"v":-0.14},{"p":11,"r":7,"c":2,"v":-0.15},{"p":11,"r":7,"c":3,"v":-0.05},{"p":11,"r":7,"c":4,"v":0.04},{"p":11,"r":7,"c":5,"v":-0.07},{"p":11,"r":7,"c":6,"v":-0.28},{"p":11,"r":7,"c":7,"v":-0.17},{"p":11,"r":7,"c":8,"v":0.18},
{"p":11,"r":8,"c":1,"v":0},{"p":11,"r":8,"c":2,"v":0.04},{"p":11,"r":8,"c":3,"v":0.18},{"p":11,"r":8,"c":4,"v":0.23},{"p":11,"r":8,"c":5,"v":0.09},{"p":11,"r":8,"c":6,"v":-0.07},{"p":11,"r":8,"c":7,"v":0.06},{"p":11,"r":8,"c":8,"v":0.35},
{"p":12,"r":1,"c":1,"v":0},{"p":12,"r":1,"c":2,"v":0},{"p":12,"r":1,"c":3,"v":0},{"p":12,"r":1,"c":4,"v":0.06},{"p":12,"r":1,"c":5,"v":0.2},{"p":12,"r":1,"c":6,"v":0.28},{"p":12,"r":1,"c":7,"v":0.14},{"p":12,"r":1,"c":8,"v":-0.07},
{"p":12,"r":2,"c":1,"v":-0.01},{"p":12,"r":2,"c":2,"v":0},{"p":12,"r":2,"c":3,"v":0},{"p":12,"r":2,"c":4,"v":0.04},{"p":12,"r":2,"c":5,"v":0.2},{"p":12,"r":2,"c":6,"v":0.32},{"p":12,"r":2,"c":7,"v":0.13},{"p":12,"r":2,"c":8,"v":-0.12},
{"p":12,"r":3,"c":1,"v":0},{"p":12,"r":3,"c":2,"v":0},{"p":12,"r":3,"c":3,"v":0},{"p":12,"r":3,"c":4,"v":0.02},{"p":12,"r":3,"c":5,"v":0.06},{"p":12,"r":3,"c":6,"v":0.06},{"p":12,"r":3,"c":7,"v":-0.05},{"p":12,"r":3,"c":8,"v":-0.19},
{"p":12,"r":4,"c":1,"v":-0.03},{"p":12,"r":4,"c":2,"v":-0.03},{"p":12,"r":4,"c":3,"v":-0.03},{"p":12,"r":4,"c":4,"v":-0.01},{"p":12,"r":4,"c":5,"v":-0.12},{"p":12,"r":4,"c":6,"v":-0.22},{"p":12,"r":4,"c":7,"v":-0.22},{"p":12,"r":4,"c":8,"v":-0.14},
{"p":12,"r":5,"c":1,"v":-0.12},{"p":12,"r":5,"c":2,"v":-0.15},{"p":12,"r":5,"c":3,"v":-0.05},{"p":12,"r":5,"c":4,"v":0.04},{"p":12,"r":5,"c":5,"v":-0.03},{"p":12,"r":5,"c":6,"v":-0.19},{"p":12,"r":5,"c":7,"v":-0.15},{"p":12,"r":5,"c":8,"v":0.06},
{"p":12,"r":6,"c":1,"v":-0.17},{"p":12,"r":6,"c":2,"v":-0.21},{"p":12,"r":6,"c":3,"v":-0.05},{"p":12,"r":6,"c":4,"v":0.18},{"p":12,"r":6,"c":5,"v":0.21},{"p":12,"r":6,"c":6,"v":0.09},{"p":12,"r":6,"c":7,"v":0.09},{"p":12,"r":6,"c":8,"v":0.27},
{"p":12,"r":7,"c":1,"v":-0.07},{"p":12,"r":7,"c":2,"v":-0.07},{"p":12,"r":7,"c":3,"v":0.04},{"p":12,"r":7,"c":4,"v":0.2},{"p":12,"r":7,"c":5,"v":0.21},{"p":12,"r":7,"c":6,"v":0.09},{"p":12,"r":7,"c":7,"v":0.07},{"p":12,"r":7,"c":8,"v":0.18},
{"p":12,"r":8,"c":1,"v":0.11},{"p":12,"r":8,"c":2,"v":0.18},{"p":12,"r":8,"c":3,"v":0.18},{"p":12,"r":8,"c":4,"v":0.06},{"p":12,"r":8,"c":5,"v":-0.12},{"p":12,"r":8,"c":6,"v":-0.22},{"p":12,"r":8,"c":7,"v":-0.21},{"p":12,"r":8,"c":8,"v":-0.12},
{"p":13,"r":1,"c":1,"v":-0.08},{"p":13,"r":1,"c":2,"v":-0.07},{"p":13,"r":1,"c":3,"v":0.09},{"p":13,"r":1,"c":4,"v":0.2},{"p":13,"r":1,"c":5,"v":0.11},{"p":13,"r":1,"c":6,"v":-0.12},{"p":13,"r":1,"c":7,"v":-0.15},{"p":13,"r":1,"c":8,"v":0},
{"p":13,"r":2,"c":1,"v":-0.14},{"p":13,"r":2,"c":2,"v":-0.12},{"p":13,"r":2,"c":3,"v":0.09},{"p":13,"r":2,"c":4,"v":0.28},{"p":13,"r":2,"c":5,"v":0.13},{"p":13,"r":2,"c":6,"v":-0.19},{"p":13,"r":2,"c":7,"v":-0.21},{"p":13,"r":2,"c":8,"v":0.04},
{"p":13,"r":3,"c":1,"v":-0.19},{"p":13,"r":3,"c":2,"v":-0.18},{"p":13,"r":3,"c":3,"v":0.04},{"p":13,"r":3,"c":4,"v":0.23},{"p":13,"r":3,"c":5,"v":0.09},{"p":13,"r":3,"c":6,"v":-0.22},{"p":13,"r":3,"c":7,"v":-0.19},{"p":13,"r":3,"c":8,"v":0.18},
{"p":13,"r":4,"c":1,"v":-0.18},{"p":13,"r":4,"c":2,"v":-0.17},{"p":13,"r":4,"c":3,"v":-0.01},{"p":13,"r":4,"c":4,"v":0.14},{"p":13,"r":4,"c":5,"v":0.04},{"p":13,"r":4,"c":6,"v":-0.21},{"p":13,"r":4,"c":7,"v":-0.1},{"p":13,"r":4,"c":8,"v":0.3},
{"p":13,"r":5,"c":1,"v":-0.08},{"p":13,"r":5,"c":2,"v":-0.07},{"p":13,"r":5,"c":3,"v":0.06},{"p":13,"r":5,"c":4,"v":0.14},{"p":13,"r":5,"c":5,"v":0.04},{"p":13,"r":5,"c":6,"v":-0.15},{"p":13,"r":5,"c":7,"v":-0.05},{"p":13,"r":5,"c":8,"v":0.27},
{"p":13,"r":6,"c":1,"v":0.06},{"p":13,"r":6,"c":2,"v":0.11},{"p":13,"r":6,"c":3,"v":0.2},{"p":13,"r":6,"c":4,"v":0.2},{"p":13,"r":6,"c":5,"v":0.07},{"p":13,"r":6,"c":6,"v":-0.07},{"p":13,"r":6,"c":7,"v":-0.07},{"p":13,"r":6,"c":8,"v":0.06},
{"p":13,"r":7,"c":1,"v":0.09},{"p":13,"r":7,"c":2,"v":0.13},{"p":13,"r":7,"c":3,"v":0.16},{"p":13,"r":7,"c":4,"v":0.07},{"p":13,"r":7,"c":5,"v":0},{"p":13,"r":7,"c":6,"v":-0.03},{"p":13,"r":7,"c":7,"v":-0.01},{"p":13,"r":7,"c":8,"v":0},
{"p":13,"r":8,"c":1,"v":0.07},{"p":13,"r":8,"c":2,"v":0.04},{"p":13,"r":8,"c":3,"v":-0.08},{"p":13,"r":8,"c":4,"v":-0.21},{"p":13,"r":8,"c":5,"v":-0.17},{"p":13,"r":8,"c":6,"v":-0.01},{"p":13,"r":8,"c":7,"v":0.09},{"p":13,"r":8,"c":8,"v":0.02},
{"p":14,"r":1,"c":1,"v":-0.15},{"p":14,"r":1,"c":2,"v":-0.19},{"p":14,"r":1,"c":3,"v":-0.08},{"p":14,"r":1,"c":4,"v":0.09},{"p":14,"r":1,"c":5,"v":0.06},{"p":14,"r":1,"c":6,"v":-0.07},{"p":14,"r":1,"c":7,"v":0},{"p":14,"r":1,"c":8,"v":0.25},
{"p":14,"r":2,"c":1,"v":-0.17},{"p":14,"r":2,"c":2,"v":-0.19},{"p":14,"r":2,"c":3,"v":-0.07},{"p":14,"r":2,"c":4,"v":0.13},{"p":14,"r":2,"c":5,"v":0.07},{"p":14,"r":2,"c":6,"v":-0.08},{"p":14,"r":2,"c":7,"v":-0.01},{"p":14,"r":2,"c":8,"v":0.27},
{"p":14,"r":3,"c":1,"v":-0.01},{"p":14,"r":3,"c":2,"v":0.02},{"p":14,"r":3,"c":3,"v":0.09},{"p":14,"r":3,"c":4,"v":0.14},{"p":14,"r":3,"c":5,"v":0.07},{"p":14,"r":3,"c":6,"v":-0.05},{"p":14,"r":3,"c":7,"v":-0.05},{"p":14,"r":3,"c":8,"v":0.06},
{"p":14,"r":4,"c":1,"v":0.21},{"p":14,"r":4,"c":2,"v":0.28},{"p":14,"r":4,"c":3,"v":0.25},{"p":14,"r":4,"c":4,"v":0.09},{"p":14,"r":4,"c":5,"v":0},{"p":14,"r":4,"c":6,"v":-0.03},{"p":14,"r":4,"c":7,"v":-0.05},{"p":14,"r":4,"c":8,"v":-0.14},
{"p":14,"r":5,"c":1,"v":0.14},{"p":14,"r":5,"c":2,"v":0.18},{"p":14,"r":5,"c":3,"v":0.11},{"p":14,"r":5,"c":4,"v":-0.05},{"p":14,"r":5,"c":5,"v":-0.08},{"p":14,"r":5,"c":6,"v":-0.03},{"p":14,"r":5,"c":7,"v":0},{"p":14,"r":5,"c":8,"v":-0.05},
{"p":14,"r":6,"c":1,"v":-0.07},{"p":14,"r":6,"c":2,"v":-0.12},{"p":14,"r":6,"c":3,"v":-0.15},{"p":14,"r":6,"c":4,"v":-0.16},{"p":14,"r":6,"c":5,"v":-0.14},{"p":14,"r":6,"c":6,"v":-0.07},{"p":14,"r":6,"c":7,"v":0.11},{"p":14,"r":6,"c":8,"v":0.23},
{"p":14,"r":7,"c":1,"v":-0.05},{"p":14,"r":7,"c":2,"v":-0.1},{"p":14,"r":7,"c":3,"v":-0.14},{"p":14,"r":7,"c":4,"v":-0.14},{"p":14,"r":7,"c":5,"v":-0.05},{"p":14,"r":7,"c":6,"v":0.04},{"p":14,"r":7,"c":7,"v":0.13},{"p":14,"r":7,"c":8,"v":0.11},
{"p":14,"r":8,"c":1,"v":0.21},{"p":14,"r":8,"c":2,"v":0.27},{"p":14,"r":8,"c":3,"v":0.09},{"p":14,"r":8,"c":4,"v":-0.05},{"p":14,"r":8,"c":5,"v":0.07},{"p":14,"r":8,"c":6,"v":0.3},{"p":14,"r":8,"c":7,"v":0.07},{"p":14,"r":8,"c":8,"v":-0.38},
{"p":15,"r":1,"c":1,"v":0.06},{"p":15,"r":1,"c":2,"v":0.09},{"p":15,"r":1,"c":3,"v":0.13},{"p":15,"r":1,"c":4,"v":0.11},{"p":15,"r":1,"c":5,"v":-0.07},{"p":15,"r":1,"c":6,"v":-0.15},{"p":15,"r":1,"c":7,"v":-0.01},{"p":15,"r":1,"c":8,"v":0.21},
{"p":15,"r":2,"c":1,"v":0.07},{"p":15,"r":2,"c":2,"v":0.13},{"p":15,"r":2,"c":3,"v":0.13},{"p":15,"r":2,"c":4,"v":0.06},{"p":15,"r":2,"c":5,"v":-0.1},{"p":15,"r":2,"c":6,"v":-0.15},{"p":15,"r":2,"c":7,"v":0},{"p":15,"r":2,"c":8,"v":0.25},
{"p":15,"r":3,"c":1,"v":0.09},{"p":15,"r":3,"c":2,"v":0.11},{"p":15,"r":3,"c":3,"v":0},{"p":15,"r":3,"c":4,"v":-0.14},{"p":15,"r":3,"c":5,"v":-0.12},{"p":15,"r":3,"c":6,"v":0.04},{"p":15,"r":3,"c":7,"v":0.11},{"p":15,"r":3,"c":8,"v":0.02},
{"p":15,"r":4,"c":1,"v":0.04},{"p":15,"r":4,"c":2,"v":-0.01},{"p":15,"r":4,"c":3,"v":-0.17},{"p":15,"r":4,"c":4,"v":-0.24},{"p":15,"r":4,"c":5,"v":-0.03},{"p":15,"r":4,"c":6,"v":0.23},{"p":15,"r":4,"c":7,"v":0.16},{"p":15,"r":4,"c":8,"v":-0.21},
{"p":15,"r":5,"c":1,"v":-0.1},{"p":15,"r":5,"c":2,"v":-0.14},{"p":15,"r":5,"c":3,"v":-0.14},{"p":15,"r":5,"c":4,"v":-0.03},{"p":15,"r":5,"c":5,"v":0.11},{"p":15,"r":5,"c":6,"v":0.14},{"p":15,"r":5,"c":7,"v":0.02},{"p":15,"r":5,"c":8,"v":-0.17},
{"p":15,"r":6,"c":1,"v":-0.15},{"p":15,"r":6,"c":2,"v":-0.14},{"p":15,"r":6,"c":3,"v":0.09},{"p":15,"r":6,"c":4,"v":0.28},{"p":15,"r":6,"c":5,"v":0.18},{"p":15,"r":6,"c":6,"v":-0.12},{"p":15,"r":6,"c":7,"v":-0.15},{"p":15,"r":6,"c":8,"v":0.13},
{"p":15,"r":7,"c":1,"v":-0.03},{"p":15,"r":7,"c":2,"v":0},{"p":15,"r":7,"c":3,"v":0.13},{"p":15,"r":7,"c":4,"v":0.2},{"p":15,"r":7,"c":5,"v":0.06},{"p":15,"r":7,"c":6,"v":-0.15},{"p":15,"r":7,"c":7,"v":-0.1},{"p":15,"r":7,"c":8,"v":0.16},
{"p":15,"r":8,"c":1,"v":0.21},{"p":15,"r":8,"c":2,"v":0.21},{"p":15,"r":8,"c":3,"v":0},{"p":15,"r":8,"c":4,"v":-0.24},{"p":15,"r":8,"c":5,"v":-0.21},{"p":15,"r":8,"c":6,"v":0.06},{"p":15,"r":8,"c":7,"v":0.14},{"p":15,"r":8,"c":8,"v":-0.05},
{"p":16,"r":1,"c":1,"v":0.09},{"p":16,"r":1,"c":2,"v":0.09},{"p":16,"r":1,"c":3,"v":-0.03},{"p":16,"r":1,"c":4,"v":-0.14},{"p":16,"r":1,"c":5,"v":-0.08},{"p":16,"r":1,"c":6,"v":0.09},{"p":16,"r":1,"c":7,"v":0.14},{"p":16,"r":1,"c":8,"v":0.02},
{"p":16,"r":2,"c":1,"v":0.07},{"p":16,"r":2,"c":2,"v":0.09},{"p":16,"r":2,"c":3,"v":-0.05},{"p":16,"r":2,"c":4,"v":-0.15},{"p":16,"r":2,"c":5,"v":-0.07},{"p":16,"r":2,"c":6,"v":0.16},{"p":16,"r":2,"c":7,"v":0.18},{"p":16,"r":2,"c":8,"v":-0.03},
{"p":16,"r":3,"c":1,"v":-0.03},{"p":16,"r":3,"c":2,"v":-0.07},{"p":16,"r":3,"c":3,"v":-0.1},{"p":16,"r":3,"c":4,"v":-0.07},{"p":16,"r":3,"c":5,"v":0.06},{"p":16,"r":3,"c":6,"v":0.14},{"p":16,"r":3,"c":7,"v":0.04},{"p":16,"r":3,"c":8,"v":-0.14},
{"p":16,"r":4,"c":1,"v":-0.14},{"p":16,"r":4,"c":2,"v":-0.17},{"p":16,"r":4,"c":3,"v":-0.05},{"p":16,"r":4,"c":4,"v":0.16},{"p":16,"r":4,"c":5,"v":0.2},{"p":16,"r":4,"c":6,"v":0.06},{"p":16,"r":4,"c":7,"v":-0.12},{"p":16,"r":4,"c":8,"v":-0.15},
{"p":16,"r":5,"c":1,"v":-0.07},{"p":16,"r":5,"c":2,"v":-0.05},{"p":16,"r":5,"c":3,"v":0.07},{"p":16,"r":5,"c":4,"v":0.18},{"p":16,"r":5,"c":5,"v":0.09},{"p":16,"r":5,"c":6,"v":-0.12},{"p":16,"r":5,"c":7,"v":-0.14},{"p":16,"r":5,"c":8,"v":0.06},
{"p":16,"r":6,"c":1,"v":0.14},{"p":16,"r":6,"c":2,"v":0.21},{"p":16,"r":6,"c":3,"v":0.2},{"p":16,"r":6,"c":4,"v":0.06},{"p":16,"r":6,"c":5,"v":-0.14},{"p":16,"r":6,"c":6,"v":-0.17},{"p":16,"r":6,"c":7,"v":0.02},{"p":16,"r":6,"c":8,"v":0.28},
{"p":16,"r":7,"c":1,"v":0.16},{"p":16,"r":7,"c":2,"v":0.21},{"p":16,"r":7,"c":3,"v":0.09},{"p":16,"r":7,"c":4,"v":-0.12},{"p":16,"r":7,"c":5,"v":-0.15},{"p":16,"r":7,"c":6,"v":0},{"p":16,"r":7,"c":7,"v":0.13},{"p":16,"r":7,"c":8,"v":0.11},
{"p":16,"r":8,"c":1,"v":0},{"p":16,"r":8,"c":2,"v":-0.07},{"p":16,"r":8,"c":3,"v":-0.17},{"p":16,"r":8,"c":4,"v":-0.19},{"p":16,"r":8,"c":5,"v":0.06},{"p":16,"r":8,"c":6,"v":0.32},{"p":16,"r":8,"c":7,"v":0.13},{"p":16,"r":8,"c":8,"v":-0.31}
]},
"columns":4,
"facet":{"field":"p","type":"ordinal","title":null,"header":{"labelFontSize":19,"labelFontWeight":"bold","labelFont":"Liberation Sans","labelColor":"#111","labelPadding":5}},
"spacing":{"column":49.3,"row":36.3},
"resolve":{"scale":{"x":"independent","y":"independent"}},
"spec":{"width":110,"height":109.6,
"layer":[
{"mark":{"type":"rect","strokeWidth":0.7,"stroke":{"expr":"scale('color',datum.v)"}},"encoding":{
"x":{"field":"c","type":"ordinal","scale":{"domain":[1,2,3,4,5,6,7,8],"paddingInner":0,"paddingOuter":0},"axis":{"orient":"bottom","values":[2,4,6,8],"labels":false,"domain":true,"domainColor":"#444","domainWidth":1.5,"grid":false,"title":null,"ticks":true,"tickSize":-2,"tickColor":"#333"}},
"y":{"field":"r","type":"ordinal","scale":{"domain":[1,2,3,4,5,6,7,8],"paddingInner":0,"paddingOuter":0},"axis":{"orient":"left","values":[2,4,6,8],"labels":false,"domain":true,"domainColor":"#444","domainWidth":1.5,"grid":false,"title":null,"ticks":true,"tickSize":-2,"tickColor":"#333"}},
"color":{"field":"v","type":"quantitative","scale":{"domain":[-0.4145,0.474],"range":["#000000","#ffffff"]},"legend":{"type":"gradient","orient":"none","legendX":613,"legendY":28,"direction":"vertical","title":null,"gradientLength":553,"gradientThickness":19,"values":[-0.4,-0.3,-0.2,-0.1,0,0.1,0.2,0.3,0.4],"labelExpr":"''+round(datum.value*10)/10","labelFontSize":19,"labelFont":"Liberation Sans","labelColor":"#262626","labelOffset":7,"gradientStrokeColor":"#333","gradientStrokeWidth":1.2}}
}},
{"mark":{"type":"rect","strokeWidth":0,"opacity":0},"encoding":{
"x":{"field":"c","type":"ordinal","scale":{"domain":[1,2,3,4,5,6,7,8],"paddingInner":0,"paddingOuter":0},"axis":{"orient":"top","values":[2,4,6,8],"labels":false,"domain":true,"domainColor":"#444","domainWidth":1.5,"grid":false,"title":null,"ticks":true,"tickSize":-2,"tickColor":"#333"}},
"y":{"field":"r","type":"ordinal","scale":{"domain":[1,2,3,4,5,6,7,8],"paddingInner":0,"paddingOuter":0},"axis":{"orient":"right","values":[2,4,6,8],"labels":false,"domain":true,"domainColor":"#444","domainWidth":1.5,"grid":false,"title":null,"ticks":true,"tickSize":-2,"tickColor":"#333"}},
"color":{"field":"v","type":"quantitative"}
}}],
"resolve":{"axis":{"x":"independent","y":"independent"}}},
"config":{"view":{"stroke":null},"axis":{"zindex":1}}}
